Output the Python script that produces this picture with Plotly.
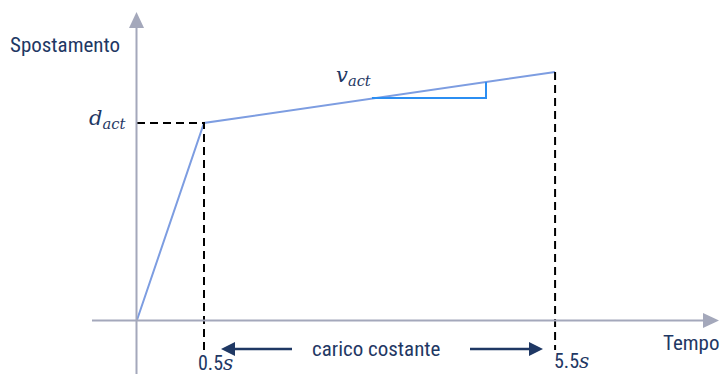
import plotly.graph_objects as go

W, H = 725, 374

# ---- schematic data (diagram is not to scale) ----
t_pos = [0.0, 1.0, 6.24]          # positions of t = 0, 0.5 s, 5.5 s
disp = [0.0, 1.0, 1.259]          # displacement (d_act = 1)
tick_text = ["0.5", "5.5"]        # time tick labels (seconds)
slope_x = [3.507, 5.209]          # extent of the slope triangle for v_act
slope_y = 1.127                   # level of its horizontal leg

# pixel mapping of the schematic coordinates
X0, SX = 137.0, 67.0
Y0, SY = 320.0, 197.0
x_range = [-X0 / SX, (W - X0) / SX]
y_range = [-(H - Y0) / SY, Y0 / SY]

AXIS = "#a4a8bb"
LINE = "#7d9de1"
TRI = "#2b8ef2"
NAVY = "#1f3864"
SANS = "Roboto Condensed, Roboto, sans-serif"
SERIF = "DejaVu Serif, Liberation Serif, serif"


def P(px, py):
    return px / W, 1 - py / H


fig = go.Figure()

# main response curve
fig.add_trace(go.Scatter(x=t_pos, y=disp, mode="lines",
                         line=dict(color=LINE, width=2), hoverinfo="skip"))

# dashed reference lines
fig.add_trace(go.Scatter(x=[0, t_pos[1], t_pos[1]],
                         y=[disp[1], disp[1], -30 / SY],
                         mode="lines", line=dict(color="black", width=2, dash="8px,5px"),
                         hoverinfo="skip"))
fig.add_trace(go.Scatter(x=[t_pos[2], t_pos[2]], y=[disp[2], -30 / SY],
                         mode="lines", line=dict(color="black", width=2, dash="8px,5px"),
                         hoverinfo="skip"))

# slope triangle
slope = (disp[2] - disp[1]) / (t_pos[2] - t_pos[1])
top = disp[1] + slope * (slope_x[1] - t_pos[1])
fig.add_trace(go.Scatter(x=[slope_x[0], slope_x[1], slope_x[1]],
                         y=[slope_y, slope_y, top], mode="lines",
                         line=dict(color=TRI, width=2), hoverinfo="skip"))

shapes = []
# x axis with arrow
x1, y1 = P(92, 320.5)
x2, _ = P(705, 320.5)
shapes.append(dict(type="line", xref="paper", yref="paper", x0=x1, y0=y1, x1=x2, y1=y1,
                   line=dict(color=AXIS, width=2)))
shapes.append(dict(type="path", xref="paper", yref="paper",
                   path="M {} {} L {} {} L {} {} Z".format(*P(703, 313), *P(719, 320.5), *P(703, 328)),
                   fillcolor=AXIS, line=dict(width=0)))
# y axis with arrow
xa, ya = P(136.5, 374)
_, yb = P(136.5, 26)
shapes.append(dict(type="line", xref="paper", yref="paper", x0=xa, y0=ya, x1=xa, y1=yb,
                   line=dict(color=AXIS, width=2)))
shapes.append(dict(type="path", xref="paper", yref="paper",
                   path="M {} {} L {} {} L {} {} Z".format(*P(129, 28), *P(136.5, 12), *P(144, 28)),
                   fillcolor=AXIS, line=dict(width=0)))
# "carico costante" arrows
for (a, b, tip, base) in [(292, 234, 221, 235), (470, 530, 543, 529)]:
    xa_, ya_ = P(a, 349)
    xb_, _ = P(b, 349)
    shapes.append(dict(type="line", xref="paper", yref="paper", x0=xa_, y0=ya_, x1=xb_, y1=ya_,
                       line=dict(color=NAVY, width=2.5)))
    shapes.append(dict(type="path", xref="paper", yref="paper",
                       path="M {} {} L {} {} L {} {} Z".format(*P(base, 342), *P(tip, 349), *P(base, 356)),
                       fillcolor=NAVY, line=dict(width=0)))

ann = []


def text(px, py, t, size, font=SANS, anchor="center", color=NAVY):
    x, y = P(px, py)
    ann.append(dict(x=x, y=y, xref="paper", yref="paper", text=t, showarrow=False,
                    xanchor=anchor, yanchor="middle",
                    font=dict(family=font, size=size, color=color)))


text(8, 45, "Spostamento", 21, anchor="left")
text(721, 343, "Tempo", 21, anchor="right")
text(376, 349, "carico costante", 21)
it = "<span style='font-family:{};font-style:italic'>s</span>".format(SERIF)
text(t_pos[1] * SX + X0 + 12, 363, tick_text[0] + it, 20)
text(t_pos[2] * SX + X0 + 16, 361, tick_text[1] + it, 20)
text(107, 119, "<i>d</i><sub><i>act</i></sub>", 21, font=SERIF)
text(353, 76, "<i>v</i><sub><i>act</i></sub>", 21, font=SERIF)

fig.update_layout(
    width=W, height=H, autosize=False,
    margin=dict(l=0, r=0, t=0, b=0),
    paper_bgcolor="white", plot_bgcolor="white",
    showlegend=False,
    xaxis=dict(range=x_range, visible=False, fixedrange=True),
    yaxis=dict(range=y_range, visible=False, fixedrange=True),
    shapes=shapes, annotations=ann,
)

fig.write_html("out.html", config={"displayModeBar": False},
               post_script="document.body.style.margin='0';document.body.style.overflow='hidden';")
